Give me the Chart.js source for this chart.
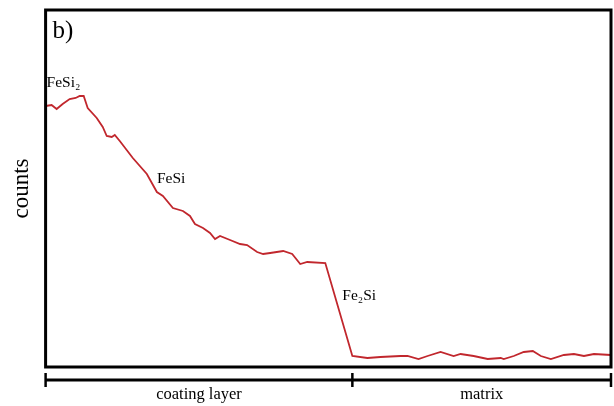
<!DOCTYPE html>
<html><head><meta charset="utf-8">
<script src="https://cdn.jsdelivr.net/npm/chart.js@4/dist/chart.umd.min.js"></script>
<style>html,body{margin:0;padding:0;background:#fff}#w{width:614px;height:406px}</style>
</head><body><div id="w"><canvas id="c"></canvas></div>
<script>
const depth = [0,6,11,17,24,30,34,38,42,51,57,61,66,69,74,87,101,111,117,127,137,144,149,157,164,169,174,184,194,201,211,217,224,237,246,254,261,279,306,321,334,354,361,372,381,394,407,414,427,441,454,457,467,477,486,494,504,517,527,537,547,564];
const counts = [261,262,258,263,268,269,271,271,259,249,240,231,230,232,226,209,193,175,171,159,156,151,143,139,134,128,131,127,123,122,115,113,114,116,113,103,105,104,11,9,10,11,11,8,11,15,11,13,11,8,9,8,11,15,16,11,8,12,13,11,13,12];
const phaseLabels = ['FeSi₂','FeSi','Fe₂Si'];
const phaseAt = [[1,284],[111,188],[296,71]];
const regionNames = ['coating layer','matrix'];
const regionBounds = [0,306,564];
const panelLabel = 'b)';

const serif = '"Liberation Serif", "DejaVu Serif", serif';
const deco = {
  id:'deco',
  afterDraw(chart){
    const {ctx, chartArea:a, scales:{x,y}} = chart;
    ctx.save();
    ctx.strokeStyle = '#000'; ctx.lineWidth = 3;
    ctx.strokeRect(a.left, a.top, a.right - a.left, a.bottom - a.top);
    const by = a.bottom + 13;
    ctx.beginPath();
    ctx.moveTo(x.getPixelForValue(regionBounds[0]), by);
    ctx.lineTo(x.getPixelForValue(regionBounds[regionBounds.length-1]), by);
    ctx.stroke();
    ctx.lineWidth = 2.5;
    regionBounds.forEach(v => {
      const px = x.getPixelForValue(v);
      ctx.beginPath(); ctx.moveTo(px, by - 7); ctx.lineTo(px, by + 7); ctx.stroke();
    });
    ctx.fillStyle = '#000';
    ctx.font = '16.5px ' + serif;
    ctx.textAlign = 'center'; ctx.textBaseline = 'middle';
    regionNames.forEach((n, i) => {
      const cx = (x.getPixelForValue(regionBounds[i]) + x.getPixelForValue(regionBounds[i+1])) / 2;
      ctx.fillText(n, cx, by + 15);
    });
    ctx.textAlign = 'left';
    ctx.font = '15.5px ' + serif;
    phaseLabels.forEach((t, i) => {
      ctx.fillText(t, x.getPixelForValue(phaseAt[i][0]), y.getPixelForValue(phaseAt[i][1]));
    });
    ctx.font = '25px ' + serif;
    ctx.fillText(panelLabel, a.left + 7, a.top + 21);
    ctx.restore();
  }
};

new Chart(document.getElementById('c'), {
  type:'line',
  data:{datasets:[{
    data: depth.map((d,i)=>({x:d, y:counts[i]})),
    borderColor:'#c1272d', borderWidth:1.8, pointRadius:0, tension:0, fill:false
  }]},
  options:{
    responsive:true, maintainAspectRatio:false, animation:false,
    layout:{padding:{top:10, right:3, bottom:39, left:0}},
    plugins:{legend:{display:false}, tooltip:{enabled:false}},
    scales:{
      x:{type:'linear', min:0, max:564, display:false},
      y:{min:0, max:357, grid:{display:false, drawTicks:false}, border:{display:false},
         ticks:{display:false},
         title:{display:true, text:'counts', color:'#000', font:{family:serif, size:23}, padding:{top:8, bottom:10}}}
    }
  },
  plugins:[deco]
});
</script></body></html>
